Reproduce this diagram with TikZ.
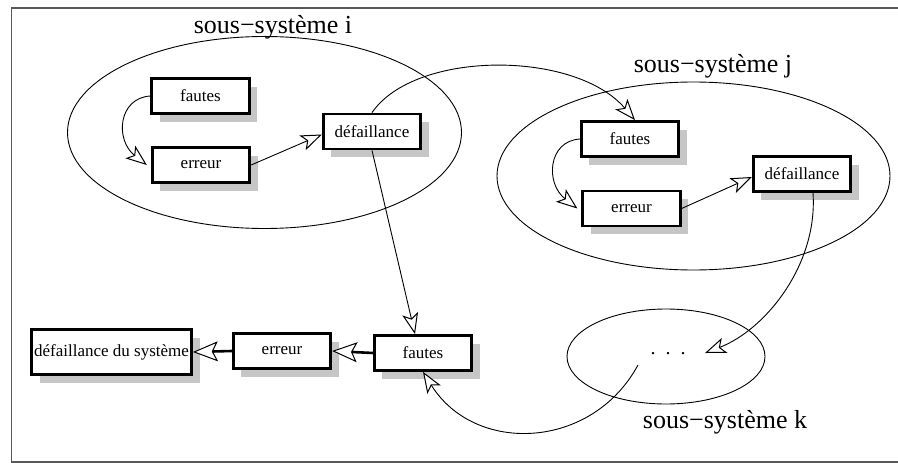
\documentclass[tikz,border=0pt]{standalone}
\usepackage{fontspec}
\setmainfont{Liberation Serif}
\usetikzlibrary{arrows.meta,shapes.geometric,shadows}
\tikzset{
  box/.style={draw, line width=2.8pt, fill=white, minimum width=97.5pt, minimum height=35pt,
    inner sep=2pt, font=\fontsize{17}{19}\selectfont,
    general shadow={fill=gray!45, shadow xshift=8pt, shadow yshift=-8pt}},
  title/.style={font=\fontsize{26}{30}\selectfont, anchor=base, inner sep=0pt},
  zone/.style={draw, ellipse, line width=0.9pt, inner sep=0pt},
  conn/.style={line width=0.9pt, -{Stealth[length=21pt, width=16pt, inset=5pt, fill=white, line width=1pt]}},
  thickconn/.style={line width=2.6pt, -{Stealth[length=25pt, width=20pt, inset=5pt, fill=white, line width=1pt]}},
  frame/.style={line width=1.6pt, draw=black!65},
}
\begin{document}
\begin{tikzpicture}[x=1pt, y=-1pt]
\useasboundingbox (0,0) rectangle (898,463);
\draw[frame] (898,8) -- (11.5,8) -- (11.5,462) -- (898,462);

% sub-systems
\node[zone, minimum width=394pt, minimum height=192pt] (si) at (264.5,132.5) {};
\node[zone, minimum width=393pt, minimum height=188pt] (sj) at (693.5,176) {};
\node[zone, minimum width=198pt, minimum height=95pt] (sk) at (666,356.5) {};

\node[title] (ti) at (273,33) {sous−système i};
\node[title] (tj) at (713,72) {sous−système j};
\node[title] (tk) at (725,428) {sous−système k};

\node[font=\fontsize{20}{24}\selectfont, inner sep=0pt] (dots) at (668,354) {.\hspace{10pt}.\hspace{10pt}.};
\coordinate (ks) at (638,365);

% boxes
\node[box] (fi) at (200.5,96) {fautes};
\node[box] (ei) at (201,165) {erreur};
\node[box] (di) at (372,131.5) {défaillance};
\node[box] (fj) at (630,139) {fautes};
\node[box] (ej) at (631.5,208.5) {erreur};
\node[box] (dj) at (802,174) {défaillance};
\node[box, minimum width=160pt, minimum height=45pt] (ds) at (111.5,352) {défaillance du système};
\node[box] (eb) at (282,351) {erreur};
\node[box] (fb) at (423,353) {fautes};

% connectors
\draw[conn] (fi.west) .. controls (118,98) and (115,140) .. ([xshift=-4pt]ei.west);
\draw[conn] (ei.east) -- ([yshift=-3pt]di.west);
\draw[conn] (fj.west) .. controls (548,141) and (545,183) .. ([xshift=-4pt]ej.west);
\draw[conn] (ej.east) -- ([yshift=-3pt]dj.west);
\draw[conn] (di.north) .. controls (415,50) and (575,50) .. ([xshift=5pt]fj.north);
\draw[conn] (di.south) -- ([xshift=-8pt]fb.north);
\draw[conn] ([xshift=11pt]dj.south) .. controls (818,265) and (765,330) .. ([xshift=37pt,yshift=1pt]dots.center);
\draw[conn] (ks) .. controls (592,450) and (475,455) .. (fb.south);
\draw[thickconn] (fb.west) -- (eb.east);
\draw[thickconn] (eb.west) -- (ds.east);
\end{tikzpicture}
\end{document}
